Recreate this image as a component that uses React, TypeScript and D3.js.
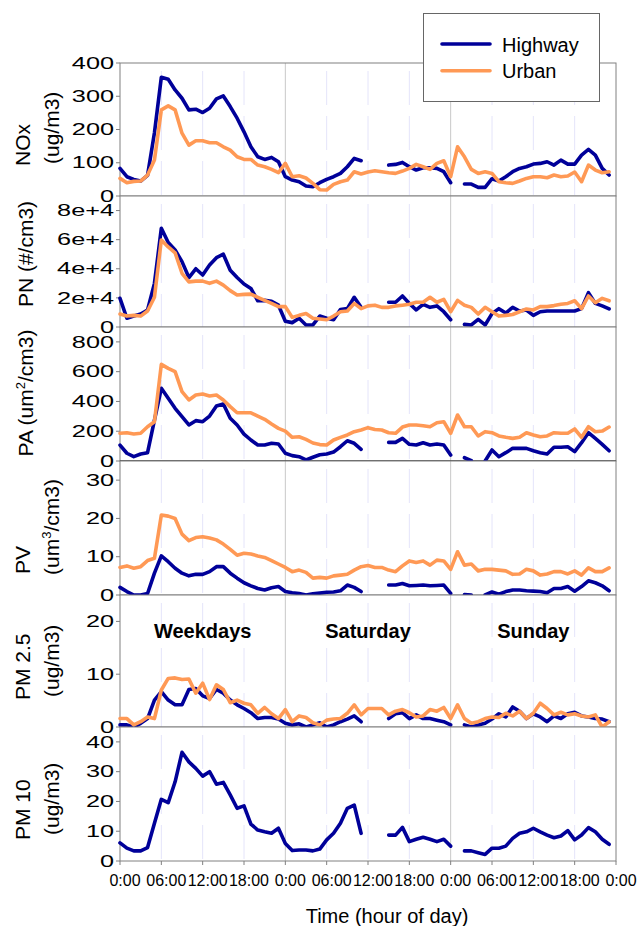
import React from 'react';
import * as d3 from 'd3';

// Hour-of-week categories: Weekdays (0-23), Saturday (24-47), Sunday (48-71)
const HOURS = d3.range(72);
const X_TICKS = d3.range(0, 73, 6);
const X_TICK_LABELS = ['0:00', '06:00', '12:00', '18:00', '0:00', '06:00', '12:00', '18:00', '0:00', '06:00', '12:00', '18:00', '0:00'];
const DAYS = ['Weekdays', 'Saturday', 'Sunday'];
const SERIES = ['Highway', 'Urban'];

const _ = null;

const NOX_HIGHWAY = [83, 58, 50, 45, 62, 190, 357, 351, 319, 294, 259, 261, 251, 264, 292, 301, 269, 234, 193, 148, 118, 110, 116, 103,
  58, 48, 43, 30, 28, 40, 50, 58, 68, 88, 113, 106, _, _, _, 93, 95, 101, 88, 78, 85, 85, 83, 73,
  40, _, 36, 36, 26, 26, 52, 45, 58, 73, 83, 88, 96, 98, 103, 93, 108, 96, 96, 123, 140, 123, 83, 63];
const NOX_URBAN = [53, 40, 44, 45, 63, 108, 259, 271, 259, 189, 153, 166, 166, 160, 160, 148, 138, 118, 110, 110, 93, 88, 80, 70,
  98, 58, 61, 54, 38, 19, 18, 35, 43, 48, 73, 66, 72, 76, 73, 70, 68, 75, 83, 95, 88, 80, 98, 106,
  58, 148, 118, 80, 68, 73, 68, 43, 40, 38, 45, 53, 58, 58, 55, 63, 58, 60, 72, 43, 93, 78, 70, 73];

const PN_HIGHWAY = [19700, 6000, 7500, 8900, 11700, 30000, 67800, 58000, 52900, 44900, 34000, 40000, 35700, 42600, 47600, 50000, 39000, 34000, 29500, 26500, 18000, 18300, 17700, 15000,
  4000, 3000, 6000, 1400, 1400, 7500, 6000, 5000, 12000, 12600, 20400, 13500, _, _, _, 17000, 17000, 21300, 16200, 11700, 15600, 13500, 14500, 10500,
  5000, _, 1800, 1400, 5300, 1400, 9200, 12600, 9600, 13500, 11000, 11700, 8000, 10500, 11000, 11000, 11000, 11000, 11000, 12600, 23600, 16200, 14500, 12400];
const PN_URBAN = [8900, 7500, 8000, 7500, 11000, 20400, 59800, 55000, 51000, 36900, 31000, 31500, 31500, 30000, 31500, 28800, 25000, 22000, 22400, 22600, 20400, 18300, 16200, 14000,
  14000, 6600, 8000, 9200, 6000, 5500, 5000, 7500, 10500, 11000, 16200, 12600, 14500, 15000, 13500, 13500, 14500, 15000, 15600, 17000, 17000, 20400, 17000, 19000,
  10500, 18300, 15000, 13500, 8900, 13500, 10500, 7500, 8000, 8600, 10500, 12400, 11700, 14000, 14000, 14700, 15600, 16200, 18000, 12600, 21300, 16700, 19700, 18000];

const PA_HIGHWAY = [107, 52, 29, 47, 56, 275, 488, 421, 354, 298, 242, 271, 264, 302, 369, 383, 287, 242, 181, 141, 107, 107, 119, 114,
  52, 36, 29, 7, 25, 42, 47, 60, 96, 136, 119, 78, _, _, _, 125, 125, 152, 112, 107, 123, 107, 114, 107,
  40, _, 22, 3, _, 0, 74, 29, 56, 85, 85, 85, 69, 56, 47, 92, 92, 96, 63, 123, 190, 152, 112, 69];
const PA_URBAN = [186, 190, 181, 186, 230, 264, 649, 622, 600, 466, 410, 443, 450, 437, 443, 410, 365, 324, 324, 324, 302, 280, 248, 219,
  201, 159, 163, 145, 121, 110, 107, 141, 159, 175, 197, 208, 224, 212, 208, 190, 186, 228, 242, 242, 237, 230, 257, 264,
  186, 309, 230, 230, 168, 197, 190, 168, 159, 152, 159, 190, 175, 163, 168, 190, 186, 186, 215, 159, 230, 197, 201, 228];

const PV_HIGHWAY = [2.0, 0.9, 0, 0, 0.4, 5.7, 10.2, 8.7, 7.0, 5.7, 5.0, 5.4, 5.4, 6.1, 7.4, 7.4, 5.7, 4.4, 3.2, 2.4, 1.7, 1.3, 1.9, 2.2,
  0.9, 0.6, 0.4, 0, 0.3, 0.5, 0.7, 0.8, 1.1, 2.6, 2.0, 0.9, _, _, _, 2.6, 2.6, 3.0, 2.4, 2.5, 2.6, 2.4, 2.5, 2.6,
  0.4, _, 0.1, 0, _, 0, 0.8, 0.2, 0.9, 1.3, 1.3, 1.1, 1.0, 0.9, 0.6, 1.7, 1.7, 2.2, 1.0, 2.2, 3.7, 3.2, 2.4, 1.1];
const PV_URBAN = [7.2, 7.6, 7.0, 7.4, 9.0, 9.6, 20.9, 20.6, 20.0, 15.9, 14.2, 15.0, 15.2, 14.9, 14.4, 13.3, 11.9, 10.4, 10.9, 10.7, 10.2, 9.8, 9.0, 8.1,
  7.2, 6.1, 6.5, 5.9, 4.4, 4.6, 4.4, 5.0, 5.2, 5.4, 6.5, 7.4, 7.7, 7.2, 7.2, 6.5, 6.1, 7.6, 8.9, 8.5, 8.9, 7.8, 9.1, 8.9,
  6.7, 11.3, 7.8, 8.1, 6.3, 6.7, 6.7, 6.5, 6.3, 5.4, 5.5, 6.7, 6.3, 5.2, 5.5, 6.1, 6.1, 5.5, 6.3, 5.2, 7.1, 6.1, 6.1, 7.1];

const PM25_HIGHWAY = [0.4, 0.4, 0, 0.7, 1.6, 5.1, 6.7, 5.1, 4.2, 4.2, 7.1, 7.3, 5.9, 5.4, 7.1, 6.4, 5.1, 4.2, 3.5, 2.7, 1.6, 1.8, 1.8, 1.5,
  0.7, 0.4, 0.6, 0, 0.4, 0.8, 0, 0.4, 1.0, 1.5, 2.1, 1.0, _, _, _, 1.6, 2.5, 2.7, 1.6, 2.3, 1.6, 1.6, 1.3, 1.0,
  0.4, _, 0.4, 0, 0.4, 0.7, 1.5, 2.5, 1.9, 3.8, 3.0, 1.6, 2.5, 1.9, 1.0, 2.1, 1.6, 2.5, 2.8, 2.1, 1.9, 1.6, 1.5, 1.0];
const PM25_URBAN = [1.6, 1.6, 0.4, 1.0, 1.9, 1.6, 7.0, 9.2, 9.3, 9.0, 9.1, 6.4, 8.3, 5.2, 8.0, 7.1, 4.6, 5.1, 4.5, 4.2, 2.6, 3.7, 2.5, 1.6,
  3.3, 1.0, 2.1, 1.8, 0.8, 0.4, 1.3, 1.5, 1.6, 2.6, 4.2, 2.3, 3.5, 3.5, 3.5, 2.3, 3.0, 3.3, 2.7, 1.9, 2.1, 3.3, 3.0, 3.7,
  1.6, 4.2, 1.6, 0.7, 1.0, 1.6, 1.9, 1.8, 2.6, 2.1, 3.0, 1.6, 2.6, 4.5, 3.5, 2.3, 2.8, 2.3, 2.5, 2.1, 1.9, 2.3, 0, 1.0];

const PM10_HIGHWAY = [6.1, 4.3, 3.4, 3.4, 4.5, 12.7, 20.7, 19.6, 26.6, 36.5, 33.3, 31.1, 28.5, 30.0, 25.8, 26.4, 22.2, 17.7, 18.5, 12.4, 10.4, 9.8, 9.3, 11.0,
  5.9, 3.5, 3.7, 3.7, 3.4, 4.0, 7.1, 9.3, 12.7, 17.7, 18.8, 9.3, _, _, _, 8.7, 8.7, 11.3, 6.5, 7.3, 8.0, 7.3, 6.5, 7.3,
  5.0, _, 3.4, 3.4, 2.8, 2.2, 4.3, 4.3, 5.0, 7.6, 9.3, 9.8, 11.0, 9.8, 8.7, 7.8, 8.4, 10.2, 7.1, 8.7, 11.2, 9.8, 7.3, 5.6];
const PM10_URBAN: (number | null)[] = [];

const NOX_TICKS = [0, 100, 200, 300, 400];
const PN_TICKS = [0, 20000, 40000, 60000, 80000];
const PA_TICKS = [0, 200, 400, 600, 800];
const PV_TICKS = [0, 10, 20, 30];
const PM25_TICKS = [0, 10, 20];
const PM10_TICKS = [0, 10, 20, 30, 40];

const FONT = 'Liberation Sans, Arial, Helvetica, sans-serif';
const BLUE = '#000099';
const ORANGE = '#FF9955';

const X0 = 120;
const X1 = 616;
const x = d3.scaleLinear().domain([0, 72]).range([X0, X1]);

type TitleLine = { parts: { t: string; sup?: boolean }[]; bx: number; sy: number; anchor?: string };

const sciFmt = (d: number) => (d === 0 ? '0' : `${d / 1e4}e+4`);
const plainFmt = (d: number) => String(d);

const PANELS = [
  { id: 'nox', top: 63, bottom: 196, max: 400, ticks: NOX_TICKS, fmt: plainFmt, hw: NOX_HIGHWAY, ur: NOX_URBAN,
    title: [
      { parts: [{ t: 'NOx' }], bx: 30, sy: 166 },
      { parts: [{ t: '(ug/m3)' }], bx: 59, sy: 164 },
    ] as TitleLine[] },
  { id: 'pn', top: 196, bottom: 327, max: 90000, ticks: PN_TICKS, fmt: sciFmt, hw: PN_HIGHWAY, ur: PN_URBAN,
    title: [
      { parts: [{ t: 'PN (#/cm3)' }], bx: 33, sy: 254, anchor: 'middle' },
    ] as TitleLine[] },
  { id: 'pa', top: 327, bottom: 461, max: 900, ticks: PA_TICKS, fmt: plainFmt, hw: PA_HIGHWAY, ur: PA_URBAN,
    title: [
      { parts: [{ t: 'PA (um' }, { t: '2', sup: true }, { t: '/cm3)' }], bx: 33, sy: 393, anchor: 'middle' },
    ] as TitleLine[] },
  { id: 'pv', top: 461, bottom: 595, max: 35, ticks: PV_TICKS, fmt: plainFmt, hw: PV_HIGHWAY, ur: PV_URBAN,
    title: [
      { parts: [{ t: 'PV' }], bx: 30, sy: 574 },
      { parts: [{ t: '(um' }, { t: '3', sup: true }, { t: '/cm3)' }], bx: 59, sy: 575 },
    ] as TitleLine[] },
  { id: 'pm25', top: 595, bottom: 727, max: 25, ticks: PM25_TICKS, fmt: plainFmt, hw: PM25_HIGHWAY, ur: PM25_URBAN,
    title: [
      { parts: [{ t: 'PM 2.5' }], bx: 30, sy: 700 },
      { parts: [{ t: '(ug/m3)' }], bx: 59, sy: 697 },
    ] as TitleLine[] },
  { id: 'pm10', top: 727, bottom: 861, max: 45, ticks: PM10_TICKS, fmt: plainFmt, hw: PM10_HIGHWAY, ur: PM10_URBAN,
    title: [
      { parts: [{ t: 'PM 10' }], bx: 30, sy: 840 },
      { parts: [{ t: '(ug/m3)' }], bx: 59, sy: 835 },
    ] as TitleLine[] },
];

function Title({ line }: { line: TitleLine }) {
  return (
    <text
      transform={`translate(${line.bx},${line.sy}) rotate(-90)`}
      textAnchor={line.anchor || 'start'}
      fontFamily={FONT}
      fontSize={21}
      fill="#000"
    >
      {line.parts.map((p, i) =>
        p.sup ? (
          <tspan key={i} fontSize={13} dy={-8}>{p.t}</tspan>
        ) : (
          <tspan key={i} dy={i > 0 && line.parts[i - 1].sup ? 8 : 0}>{p.t}</tspan>
        )
      )}
    </text>
  );
}

function Panel({ cfg }: { cfg: typeof PANELS[number] }) {
  const y = d3.scaleLinear().domain([0, cfg.max]).range([cfg.bottom, cfg.top]);
  const line = d3
    .line<number | null>()
    .defined((d) => d != null)
    .x((_d, i) => x(HOURS[i]))
    .y((d) => y(d as number));
  const gridHours = X_TICKS.filter((h) => h % 24 !== 0);
  const dayHours = X_TICKS.filter((h) => h % 24 === 0 && h > 0 && h < 72);
  return (
    <g>
      <rect x={X0} y={cfg.top} width={X1 - X0} height={cfg.bottom - cfg.top} fill="#fff" />
      {gridHours.map((h) => (
        <line key={h} x1={x(h)} x2={x(h)} y1={cfg.top} y2={cfg.bottom}
          stroke="#E4E4FA" strokeWidth={1} strokeDasharray="34 11" strokeDashoffset={37} />
      ))}
      {dayHours.map((h) => (
        <line key={h} x1={x(h)} x2={x(h)} y1={cfg.top} y2={cfg.bottom} stroke="#C8C8C8" strokeWidth={1} />
      ))}
      <rect x={X0} y={cfg.top} width={X1 - X0} height={cfg.bottom - cfg.top} fill="none" stroke="#808080" strokeWidth={1} />
      {cfg.id === 'pa' && (
        <line x1={X0} x2={X1} y1={cfg.bottom} y2={cfg.bottom} stroke="#000" strokeWidth={1} />
      )}
      {cfg.ticks.map((t) => (
        <g key={t}>
          <line x1={X0 - 4} x2={X0} y1={y(t)} y2={y(t)} stroke="#808080" strokeWidth={1} />
          <text
            transform={`translate(114,${y(t)}) scale(1.58,1)`}
            textAnchor="end"
            dominantBaseline="central"
            fontFamily={FONT}
            fontSize={16}
            fill="#000"
          >
            {cfg.fmt(t)}
          </text>
        </g>
      ))}
      {cfg.title.map((l, i) => (
        <Title key={i} line={l} />
      ))}
      <path d={line(cfg.hw) || ''} fill="none" stroke={BLUE} strokeWidth={3.6} strokeLinejoin="round" strokeLinecap="round" />
      {cfg.ur.length > 0 && (
        <path d={line(cfg.ur) || ''} fill="none" stroke={ORANGE} strokeWidth={3.6} strokeLinejoin="round" strokeLinecap="round" />
      )}
    </g>
  );
}

export default function App() {
  const last = PANELS[PANELS.length - 1];
  const pm25 = PANELS.find((p) => p.id === 'pm25')!;
  return (
    <svg width={638} height={926} style={{ position: 'absolute', left: 0, top: 0, background: '#fff' }}>
      <rect x={0} y={0} width={638} height={926} fill="#fff" />
      {PANELS.map((p) => (
        <Panel key={p.id} cfg={p} />
      ))}
      {/* day names inside the PM 2.5 panel */}
      {DAYS.map((d, i) => (
        <text key={d} x={x(i * 24 + 12)} y={pm25.top + 43} textAnchor="middle" fontFamily={FONT}
          fontSize={20} fontWeight="bold" fill="#000">
          {d}
        </text>
      ))}
      {/* bottom time axis */}
      {X_TICKS.map((h, i) => (
        <g key={h}>
          <line x1={x(h)} x2={x(h)} y1={last.bottom} y2={last.bottom + 4} stroke="#808080" strokeWidth={1} />
          <text x={x(h) + 5} y={last.bottom + 25} textAnchor="middle" fontFamily={FONT} fontSize={16} fill="#000">
            {X_TICK_LABELS[i]}
          </text>
        </g>
      ))}
      <text x={387} y={923} textAnchor="middle" fontFamily={FONT} fontSize={20} fill="#000">
        Time (hour of day)
      </text>
      {/* legend */}
      <g>
        <rect x={423.5} y={13.5} width={176} height={88} fill="#fff" stroke="#666" strokeWidth={1} />
        {SERIES.map((s, i) => (
          <g key={s}>
            <line x1={442} x2={490} y1={44 + i * 26.7} y2={44 + i * 26.7} stroke={i === 0 ? BLUE : ORANGE}
              strokeWidth={3.6} strokeLinecap="round" />
            <text x={502} y={51.5 + i * 26.7} fontFamily={FONT} fontSize={20} fill="#000">
              {s}
            </text>
          </g>
        ))}
      </g>
    </svg>
  );
}
